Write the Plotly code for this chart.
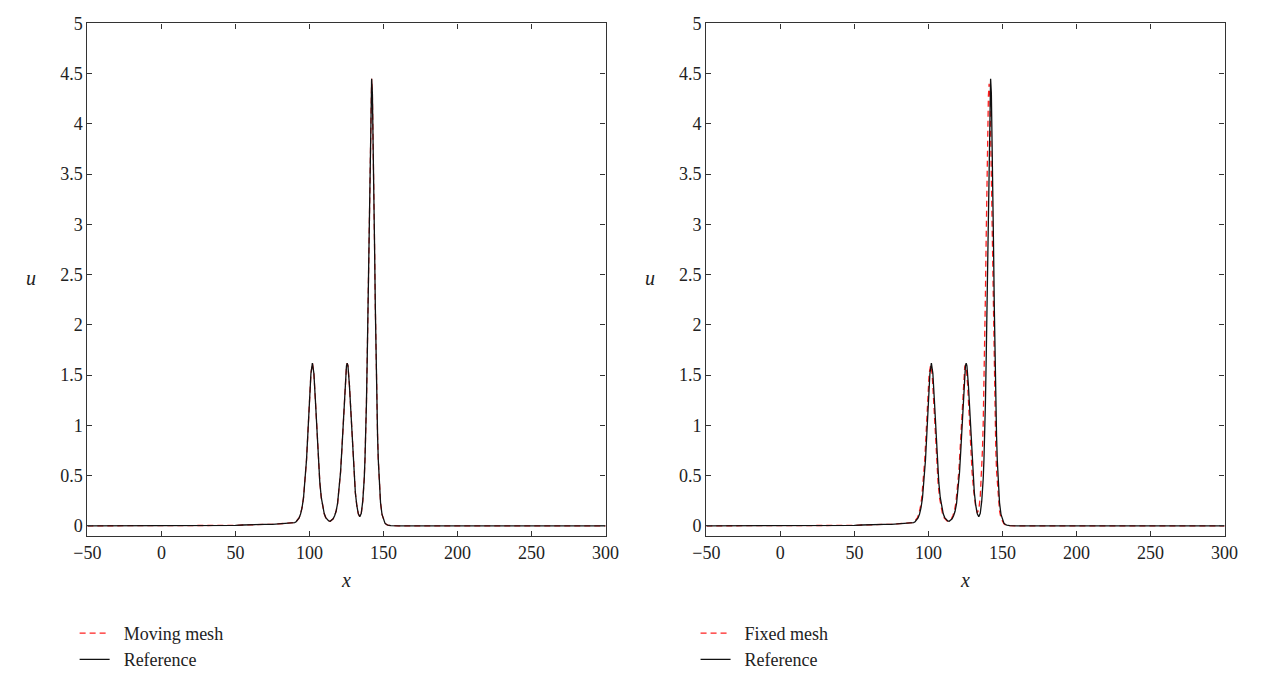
import plotly.graph_objects as go

# ---------------- data ----------------
ref_x = [-50, 0, 40, 45, 50, 55, 60, 65, 70, 75, 80, 85, 88,
         90, 91, 92, 93, 94, 95, 96, 97, 98, 99, 100, 101, 102, 103, 104, 105,
         106, 107, 108, 109, 110, 111, 112, 113, 114, 115, 116, 117, 118, 119,
         120, 121, 122, 123, 124, 125, 125.5, 126, 127, 128, 129, 130, 131, 132,
         133, 134, 135, 136, 136.5, 137, 137.5, 138, 138.5, 139, 139.5, 140,
         140.5, 141, 141.5, 142, 142.5, 143, 143.5, 144, 144.5, 145, 145.5, 146,
         146.5, 147, 148, 149, 150, 151, 152, 153, 155, 160, 200, 250, 300]
ref_u = [0, 0, 0, 0.001, 0.004, 0.008, 0.012, 0.016, 0.014, 0.015, 0.02, 0.024, 0.028,
         0.032, 0.041, 0.055, 0.079, 0.118, 0.18, 0.28, 0.432, 0.652, 0.938, 1.255, 1.516, 1.62, 1.516, 1.255, 0.938,
         0.652, 0.432, 0.28, 0.18, 0.12, 0.082, 0.06, 0.048, 0.046, 0.054, 0.07, 0.1, 0.145, 0.224,
         0.348, 0.533, 0.788, 1.097, 1.399, 1.593, 1.62, 1.593, 1.399, 1.097, 0.788, 0.52, 0.33, 0.2,
         0.12, 0.09, 0.125, 0.245, 0.33, 0.47, 0.66, 0.9, 1.23, 1.652, 2.167, 2.756,
         3.368, 3.92, 4.309, 4.45, 4.309, 3.92, 3.368, 2.756, 2.167, 1.652, 1.229, 0.896,
         0.653, 0.461, 0.231, 0.114, 0.056, 0.027, 0.013, 0.0065, 0.002, 0, 0, 0, 0]

# moving mesh: indistinguishable from the reference in the picture
moving_x = list(ref_x)
moving_u = list(ref_u)

fixed_x = [-50, 0, 40, 45, 50, 55, 60, 65, 70, 75, 80, 85, 88,
           89.5, 90.5, 91.5, 92.5, 93.5, 94.5, 95.5, 96.5, 97.5, 98.5, 99.5, 100.5, 101.5, 102.5, 103.5, 104.5,
           105.5, 106.5, 107.5, 108.5, 109.5, 110.5, 111.5, 112.5, 113.5, 114.5, 115.5, 116.5, 117.5, 118.5,
           119.5, 120.5, 121.5, 122.5, 123.5, 124.5, 125, 125.5, 126.5, 127.5, 128.5, 129.5, 130.5,
           131, 132, 133, 134, 135, 136, 136.5, 137, 137.5, 138, 138.5, 139, 139.5, 140, 140.5,
           141, 141.5, 142, 142.5, 143, 143.5, 144, 144.5, 145, 145.5, 146, 147, 148, 149,
           150, 151, 152, 153, 155, 160, 200, 250, 300]
fixed_u = [0, 0, 0, 0.001, 0.004, 0.008, 0.012, 0.016, 0.014, 0.015, 0.02, 0.024, 0.028,
           0.032, 0.041, 0.055, 0.079, 0.118, 0.18, 0.28, 0.432, 0.652, 0.938, 1.255, 1.516, 1.6, 1.516, 1.255, 0.938,
           0.652, 0.432, 0.28, 0.18, 0.12, 0.082, 0.06, 0.048, 0.046, 0.054, 0.07, 0.1, 0.145, 0.224,
           0.348, 0.533, 0.788, 1.097, 1.399, 1.58, 1.6, 1.58, 1.399, 1.097, 0.788, 0.53, 0.36,
           0.28, 0.18, 0.13, 0.16, 0.29, 0.56, 0.76, 1.02, 1.37, 1.8, 2.3, 2.86, 3.43, 3.93, 4.28,
           4.4, 4.28, 3.93, 3.43, 2.86, 2.3, 1.8, 1.37, 1.02, 0.76, 0.55, 0.29, 0.15, 0.077,
           0.039, 0.02, 0.01, 0.005, 0.001, 0, 0, 0, 0]

x_ticks = [-50, 0, 50, 100, 150, 200, 250, 300]
u_ticks = [0, 0.5, 1, 1.5, 2, 2.5, 3, 3.5, 4, 4.5, 5]
u_tick_text = ["0", "0.5", "1", "1.5", "2", "2.5", "3", "3.5", "4", "4.5", "5"]

# ---------------- figure ----------------
W, H = 1264, 678
FONT = "Liberation Serif"
RED = "#ff2020"
BLACK = "#111111"
DASH = "6px,4px"
TICK_SIZE = 18
GAP = "\u00a0\u00a0"  # extra space between legend sample and label

fig = go.Figure()
fig.add_trace(go.Scatter(x=moving_x, y=moving_u, mode="lines", name=GAP + "Moving mesh",
                         line=dict(color=RED, width=1.3, dash=DASH),
                         xaxis="x", yaxis="y", legend="legend"))
fig.add_trace(go.Scatter(x=ref_x, y=ref_u, mode="lines", name=GAP + "Reference",
                         line=dict(color=BLACK, width=1.3),
                         xaxis="x", yaxis="y", legend="legend"))
fig.add_trace(go.Scatter(x=fixed_x, y=fixed_u, mode="lines", name=GAP + "Fixed mesh",
                         line=dict(color=RED, width=1.3, dash=DASH),
                         xaxis="x2", yaxis="y2", legend="legend2"))
fig.add_trace(go.Scatter(x=ref_x, y=ref_u, mode="lines", name=GAP + "Reference",
                         line=dict(color=BLACK, width=1.3),
                         xaxis="x2", yaxis="y2", legend="legend2"))

ydom = [1 - 546 / H, 1 - 14 / H]
xdom1 = [75 / W, 605 / W]
xdom2 = [708 / W, 1238 / W]

common_x = dict(range=[-50, 300], tickvals=x_ticks, ticks="inside", ticklen=5,
                tickcolor="#333", tickwidth=1, showline=True, linecolor="#333",
                linewidth=1.2, mirror="allticks", showgrid=False, zeroline=False,
                tickfont=dict(family=FONT, size=TICK_SIZE, color="#222"))
common_y = dict(range=[-0.1, 5], tickvals=u_ticks, ticktext=u_tick_text, ticks="inside",
                ticklen=5, tickcolor="#333", tickwidth=1, showline=True, linecolor="#333",
                linewidth=1.2, mirror="allticks", showgrid=False, zeroline=False,
                tickfont=dict(family=FONT, size=TICK_SIZE, color="#222"))

leg_common = dict(font=dict(family=FONT, size=18, color="#222"), bgcolor="rgba(0,0,0,0)",
                  xanchor="left", yanchor="top", orientation="v", traceorder="normal",
                  itemwidth=30, tracegroupgap=0)

title_font = dict(family=FONT, size=20, color="#222")
fig.update_layout(
    width=W, height=H,
    margin=dict(l=0, r=0, t=0, b=0),
    paper_bgcolor="white", plot_bgcolor="white",
    xaxis=dict(domain=xdom1, anchor="y", **common_x),
    yaxis=dict(domain=ydom, anchor="x", **common_y),
    xaxis2=dict(domain=xdom2, anchor="y2", **common_x),
    yaxis2=dict(domain=ydom, anchor="x2", **common_y),
    legend=dict(x=62 / W, y=1 - 628 / H, **leg_common),
    legend2=dict(x=697 / W, y=1 - 628 / H, **leg_common),
    showlegend=True,
    annotations=[
        dict(text="<i>u</i>", x=17 / W, y=1 - 278 / H, xref="paper", yref="paper",
             xanchor="center", yanchor="middle", showarrow=False, font=title_font),
        dict(text="<i>x</i>", x=340 / W, y=1 - 592 / H, xref="paper", yref="paper",
             xanchor="center", yanchor="middle", showarrow=False, font=title_font),
        dict(text="<i>u</i>", x=650 / W, y=1 - 278 / H, xref="paper", yref="paper",
             xanchor="center", yanchor="middle", showarrow=False, font=title_font),
        dict(text="<i>x</i>", x=973 / W, y=1 - 592 / H, xref="paper", yref="paper",
             xanchor="center", yanchor="middle", showarrow=False, font=title_font),
    ],
)

fig.write_html("out.html")
